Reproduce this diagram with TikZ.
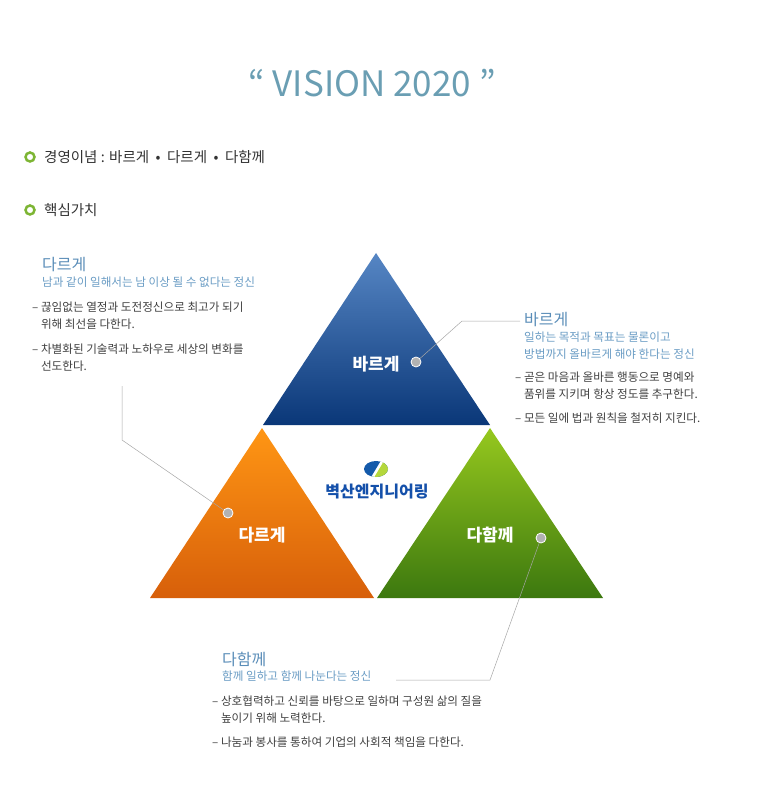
\documentclass[tikz,border=0pt]{standalone}
\usepackage{fontspec}
\setmainfont{Noto Sans CJK KR}
\definecolor{titc}{HTML}{6A9EB3}
\definecolor{headc}{HTML}{5A8DB8}
\definecolor{subc}{HTML}{6A9CC4}
\definecolor{ringc}{HTML}{7DB534}
\definecolor{btop}{RGB}{86,134,196}
\definecolor{bbot}{RGB}{10,55,120}
\definecolor{otop}{RGB}{255,150,20}
\definecolor{obot}{RGB}{215,95,10}
\definecolor{gtop}{RGB}{150,200,30}
\definecolor{gbot}{RGB}{60,120,15}
\definecolor{logob}{RGB}{20,90,170}
\definecolor{logog}{RGB}{180,215,60}
\definecolor{logot}{RGB}{20,80,170}
\begin{document}
\begin{tikzpicture}[x=1pt,y=-1pt,
  head/.style={anchor=west,inner sep=0,text=headc,font=\fontsize{16}{18}\selectfont},
  sub/.style={anchor=north west,inner sep=0,text=subc,font=\fontsize{11.6}{17}\selectfont,align=left},
  body/.style={anchor=north west,inner sep=0,text=black!75,font=\fontsize{11.6}{17}\selectfont,align=left},
  tri/.style={inner sep=0,text=white,font=\bfseries\fontsize{17}{19}\selectfont},
  dotc/.style={circle,fill=black!30,draw=white,line width=0.8pt,minimum size=10pt,inner sep=0},
  lead/.style={draw=black!35,line width=0.5pt},
  ring/.style={circle,draw=ringc,line width=2.5pt,minimum size=9pt,inner sep=0}]
\useasboundingbox (0,0) rectangle (758,791);
\node[text=titc,font=\fontsize{35}{38}\selectfont,inner sep=0] (title) at (372,83) {“ VISION 2020 ”};
\node[ring] (r1) at (30,157) {};
\node[anchor=west,inner sep=0,font=\fontsize{14.5}{16}\selectfont,text=black!80] (t1) at (44,157) {경영이념 : 바르게 \ \textbullet\ \ 다르게 \ \textbullet\ \ 다함께};
\node[ring] (r2) at (30,210) {};
\node[anchor=west,inner sep=0,font=\fontsize{14.5}{16}\selectfont,text=black!80] (t2) at (44,210) {핵심가치};
% triangles
\shade[top color=btop,bottom color=bbot] (376,253) -- (263,425) -- (490,425) -- cycle;
\shade[top color=otop,bottom color=obot] (262,428) -- (150,598) -- (374,598) -- cycle;
\shade[top color=gtop,bottom color=gbot] (490,428) -- (377,598) -- (603,598) -- cycle;
\node[tri] (bar) at (376,364) {바르게};
\node[tri] (dar) at (262,535) {다르게};
\node[tri] (dah) at (490,535) {다함께};
% logo
\begin{scope}
\clip (376,469) ellipse (12pt and 8pt);
\fill[logob] (360,455) rectangle (392,485);
\fill[logog] (372,479) -- (384,459) -- (392,459) -- (392,479) -- cycle;
\fill[white] (370,479) -- (373,479) -- (385,459) -- (382,459) -- cycle;
\end{scope}
\node[text=logot,font=\bfseries\fontsize{16}{18}\selectfont,inner sep=0] (logo) at (377,492) {벽산엔지니어링};
% dots
\node[dotc] (d1) at (416,362) {};
\node[dotc] (d2) at (228,513) {};
\node[dotc] (d3) at (541,538) {};
\coordinate (c1) at (462,321); \coordinate (c1e) at (520,321);
\coordinate (c2) at (122,440); \coordinate (c2e) at (122,386);
\coordinate (c3) at (490,680); \coordinate (c3e) at (396,680);
\draw[lead] (d1) -- (c1) -- (c1e);
\draw[lead] (d2) -- (c2) -- (c2e);
\draw[lead] (d3) -- (c3) -- (c3e);
% texts left
\node[head] (h2) at (42,265) {다르게};
\node[sub] (s2) at (42,277) {남과 같이 일해서는 남 이상 될 수 없다는 정신};
\node[body] (b2) at (32,302) {– 끊임없는 열정과 도전정신으로 최고가 되기\\\phantom{– }위해 최선을 다한다.};
\node[body] (b2b) at (32,344) {– 차별화된 기술력과 노하우로 세상의 변화를\\\phantom{– }선도한다.};
% right
\node[head] (h1) at (524,320) {바르게};
\node[sub] (s1) at (524,332) {일하는 목적과 목표는 물론이고\\방법까지 올바르게 해야 한다는 정신};
\node[body] (b1) at (515,372) {– 곧은 마음과 올바른 행동으로 명예와\\\phantom{– }품위를 지키며 항상 정도를 추구한다.};
\node[body] (b1b) at (515,413) {– 모든 일에 법과 원칙을 철저히 지킨다.};
% bottom
\node[head] (h3) at (222,659) {다함께};
\node[sub] (s3) at (222,671) {함께 일하고 함께 나눈다는 정신};
\node[body] (b3) at (212,696) {– 상호협력하고 신뢰를 바탕으로 일하며 구성원 삶의 질을\\\phantom{– }높이기 위해 노력한다.};
\node[body] (b3b) at (212,737) {– 나눔과 봉사를 통하여 기업의 사회적 책임을 다한다.};
\end{tikzpicture}
\end{document}
